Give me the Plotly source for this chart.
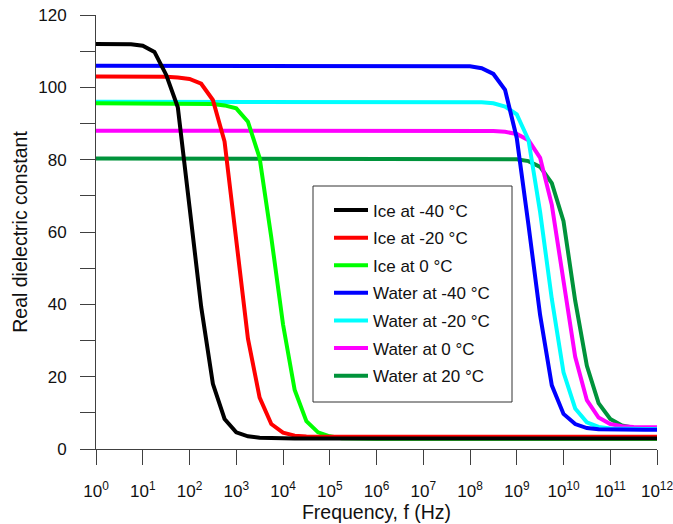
import plotly.graph_objects as go

# Frequency grid: quarter-decade steps from 1 Hz to 1 THz (log10 of f)
log_freq = [
    0.0, 0.25, 0.5, 0.75, 1.0, 1.25, 1.5, 1.75, 2.0, 2.25, 2.5, 2.75,
    3.0, 3.25, 3.5, 3.75, 4.0, 4.25, 4.5, 4.75, 5.0, 5.25, 5.5, 5.75,
    6.0, 6.25, 6.5, 6.75, 7.0, 7.25, 7.5, 7.75, 8.0, 8.25, 8.5, 8.75,
    9.0, 9.25, 9.5, 9.75, 10.0, 10.25, 10.5, 10.75, 11.0, 11.25, 11.5, 11.75,
    12.0,
]
freq_hz = [10 ** e for e in log_freq]

# Real part of the dielectric constant for each sample
ice_m40 = [
    112.0, 112.0, 112.0, 111.9, 111.5, 109.8, 103.5, 94.5, 67.0, 39.3, 18.0, 8.3,
    4.6, 3.5, 3.1, 2.95, 2.9, 2.9, 2.9, 2.9, 2.9, 2.9, 2.9, 2.9,
    2.9, 2.9, 2.9, 2.9, 2.9, 2.9, 2.9, 2.9, 2.9, 2.9, 2.9, 2.9,
    2.9, 2.9, 2.9, 2.9, 2.9, 2.9, 2.9, 2.9, 2.9, 2.9, 2.9, 2.9,
    2.9,
]
ice_m20 = [
    103.0, 103.0, 103.0, 103.0, 103.0, 103.0, 102.9, 102.7, 102.3, 101.0, 96.5, 85.0,
    57.0, 30.5, 14.2, 6.9, 4.5, 3.7, 3.45, 3.4, 3.4, 3.4, 3.4, 3.4,
    3.4, 3.4, 3.4, 3.4, 3.4, 3.4, 3.4, 3.4, 3.4, 3.4, 3.4, 3.4,
    3.4, 3.4, 3.4, 3.4, 3.4, 3.4, 3.4, 3.4, 3.4, 3.4, 3.4, 3.4,
    3.4,
]
ice_0 = [
    95.6, 95.6, 95.6, 95.6, 95.6, 95.6, 95.6, 95.6, 95.6, 95.5, 95.4, 95.0,
    94.2, 90.5, 80.5, 58.5, 34.5, 16.3, 7.7, 4.6, 3.5, 3.0, 2.85, 2.8,
    2.8, 2.8, 2.8, 2.8, 2.8, 2.8, 2.8, 2.8, 2.8, 2.8, 2.8, 2.8,
    2.8, 2.8, 2.8, 2.8, 2.8, 2.8, 2.8, 2.8, 2.8, 2.8, 2.8, 2.8,
    2.8,
]
water_m40 = [
    106.0, 106.0, 106.0, 106.0, 106.0, 106.0, 106.0, 106.0, 106.0, 106.0, 106.0, 106.0,
    106.0, 106.0, 106.0, 106.0, 106.0, 106.0, 106.0, 106.0, 106.0, 106.0, 106.0, 106.0,
    106.0, 106.0, 106.0, 106.0, 106.0, 106.0, 106.0, 105.9, 105.8, 105.3, 103.7, 99.3,
    86.0, 62.0, 37.0, 17.6, 9.7, 6.9, 5.8, 5.45, 5.35, 5.3, 5.3, 5.3,
    5.3,
]
water_m20 = [
    96.0, 96.0, 96.0, 96.0, 96.0, 96.0, 96.0, 96.0, 96.0, 96.0, 96.0, 96.0,
    96.0, 96.0, 96.0, 96.0, 96.0, 96.0, 96.0, 96.0, 96.0, 96.0, 96.0, 96.0,
    96.0, 96.0, 96.0, 96.0, 96.0, 96.0, 96.0, 96.0, 96.0, 95.9, 95.6, 94.7,
    92.5, 85.5, 65.5, 41.5, 21.2, 11.2, 7.4, 6.1, 5.7, 5.57, 5.5, 5.5,
    5.5,
]
water_0 = [
    88.0, 88.0, 88.0, 88.0, 88.0, 88.0, 88.0, 88.0, 88.0, 88.0, 88.0, 88.0,
    88.0, 88.0, 88.0, 88.0, 88.0, 88.0, 88.0, 88.0, 88.0, 88.0, 88.0, 88.0,
    88.0, 88.0, 88.0, 88.0, 88.0, 88.0, 88.0, 88.0, 88.0, 88.0, 87.9, 87.7,
    87.1, 85.4, 80.5, 67.5, 46.5, 25.5, 13.5, 8.7, 6.9, 6.3, 6.1, 6.05,
    6.0,
]
water_20 = [
    80.3, 80.3, 80.3, 80.3, 80.3, 80.3, 80.3, 80.3, 80.3, 80.3, 80.3, 80.3,
    80.3, 80.3, 80.3, 80.3, 80.3, 80.3, 80.3, 80.3, 80.3, 80.3, 80.3, 80.3,
    80.3, 80.3, 80.3, 80.3, 80.3, 80.3, 80.3, 80.3, 80.3, 80.3, 80.3, 80.2,
    80.1, 79.6, 78.0, 73.5, 63.0, 41.0, 23.0, 12.7, 8.3, 6.5, 5.9, 5.7,
    5.6,
]

series_names = [
    "Ice at -40 °C", "Ice at -20 °C", "Ice at 0 °C",
    "Water at -40 °C", "Water at -20 °C", "Water at 0 °C", "Water at 20 °C",
]
series_values = [ice_m40, ice_m20, ice_0, water_m40, water_m20, water_0, water_20]
series_colors = ["#000000", "#ff0000", "#00ff00", "#0000ff", "#00ffff", "#ff00ff", "#00933b"]

x_tick_exponents = list(range(0, 13))
y_ticks = [0, 20, 40, 60, 80, 100, 120]

FONT = "Liberation Sans, Arial, sans-serif"
FS = 17          # tick labels and legend
FS_TITLE = 19.5  # axis titles
AXIS_GREY = "#404040"

fig = go.Figure()
# Draw the last series first so the ice curves end up on top;
# legendrank keeps the legend in the listed order.
entries = list(zip(series_names, series_values, series_colors))
for rank, (name, vals, col) in reversed(list(enumerate(entries))):
    fig.add_trace(go.Scatter(
        x=freq_hz, y=vals, mode="lines", name=name, legendgroup=name,
        legendrank=rank + 1,
        line=dict(color=col, width=4),
    ))

# Plot-area geometry in pixels, used to place the legend frame
W, H = 673, 524
ML, MR, MT, MB = 96, 16, 15, 75
PW, PH = W - ML - MR, H - MT - MB


def px_x(p):
    return (p - ML) / PW


def px_y(p):
    return (H - MB - p) / PH


fig.add_shape(
    type="rect", xref="paper", yref="paper",
    x0=px_x(313), x1=px_x(512), y0=px_y(402), y1=px_y(186),
    line=dict(color="#333333", width=1), fillcolor="rgba(0,0,0,0)",
)

fig.update_layout(
    width=W, height=H,
    margin=dict(l=ML, r=MR, t=MT, b=MB, autoexpand=False),
    paper_bgcolor="white", plot_bgcolor="white",
    font=dict(family=FONT, size=FS, color="#111111"),
    showlegend=True,
    legend=dict(
        x=px_x(329), y=px_y(192.5), xanchor="left", yanchor="top",
        bgcolor="rgba(0,0,0,0)", borderwidth=0,
        traceorder="grouped", tracegroupgap=2.5,
        font=dict(family=FONT, size=FS, color="#111111"),
        itemwidth=34,
    ),
    xaxis=dict(
        type="log", range=[0, 12], automargin=False,
        tickvals=[10 ** k for k in x_tick_exponents],
        ticktext=[f"10<sup>{k}</sup>" for k in x_tick_exponents],
        ticks="outside", ticklen=15, tickcolor=AXIS_GREY, tickwidth=1,
        showline=True, linecolor=AXIS_GREY, linewidth=1,
        showgrid=False, zeroline=False,
        ticklabelstandoff=12, ticklabeloverflow="allow",
        tickfont=dict(family=FONT, size=FS),
        title=dict(text="Frequency, f (Hz)", standoff=1,
                   font=dict(family=FONT, size=FS_TITLE)),
    ),
    yaxis=dict(
        range=[0, 120], automargin=False,
        tickvals=y_ticks,
        ticks="outside", ticklen=15, tickcolor=AXIS_GREY, tickwidth=1,
        minor=dict(dtick=10, ticks="outside", ticklen=15, tickcolor=AXIS_GREY,
                   tickwidth=1, showgrid=False),
        showline=True, linecolor=AXIS_GREY, linewidth=1,
        showgrid=False, zeroline=False,
        ticklabelstandoff=10,
        tickfont=dict(family=FONT, size=FS),
        title=dict(text="Real dielectric constant", standoff=5,
                   font=dict(family=FONT, size=FS_TITLE)),
    ),
)

fig.write_html("out.html")
